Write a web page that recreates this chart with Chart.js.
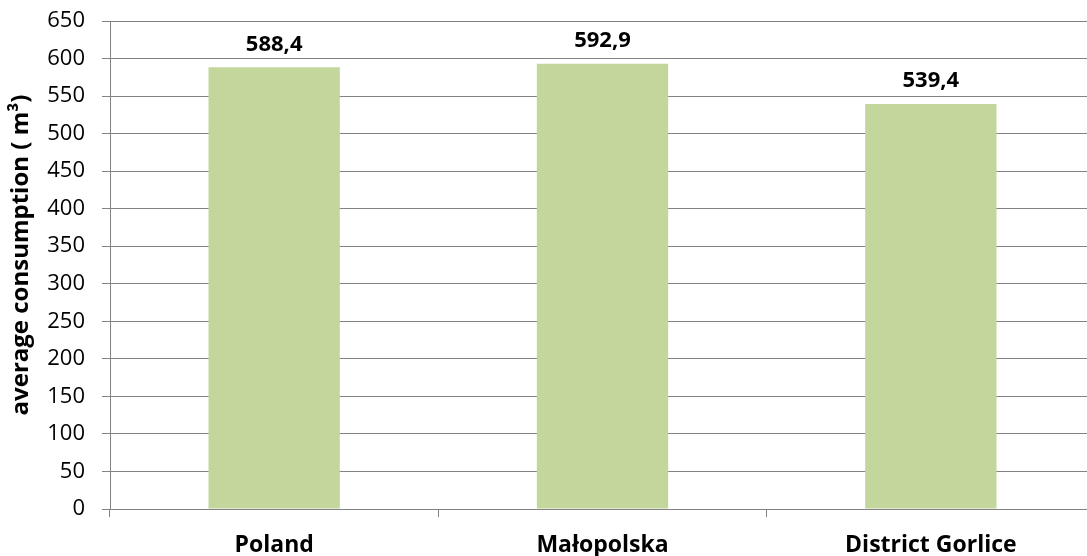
<!DOCTYPE html>
<html>
<head>
<meta charset="utf-8">
<script src="https://cdn.jsdelivr.net/npm/chart.js@4/dist/chart.umd.min.js"></script>
<style>
  html, body { margin: 0; padding: 0; background: #ffffff; overflow: hidden; }
  #wrap { position: relative; width: 1095px; height: 556px; }
</style>
</head>
<body>
<div id="wrap"><canvas id="chart"></canvas></div>
<script>
const categories = ['Poland', 'Małopolska', 'District Gorlice'];
const consumption = [588.4, 592.9, 539.4];
const valueLabels = ['588,4', '592,9', '539,4'];
const yTicks = [0, 50, 100, 150, 200, 250, 300, 350, 400, 450, 500, 550, 600, 650];
const yTitle = 'average consumption ( m³)';

const FONT = "'Open Sans', 'Liberation Sans', sans-serif";

// Bold value text above each bar, placed from the bar elements themselves
const barValues = {
  id: 'barValues',
  afterDatasetsDraw(chart) {
    const ctx = chart.ctx;
    const meta = chart.getDatasetMeta(0);
    ctx.save();
    ctx.font = `bold 22px ${FONT}`;
    ctx.fillStyle = '#000000';
    ctx.textAlign = 'center';
    ctx.textBaseline = 'middle';
    meta.data.forEach((bar, i) => {
      ctx.fillText(valueLabels[i], bar.x, bar.y - 23);
    });
    ctx.restore();
  }
};

// Rotated value-axis title, sitting slightly above the plot's middle
const axisTitle = {
  id: 'axisTitle',
  afterDraw(chart) {
    const ctx = chart.ctx;
    const area = chart.chartArea;
    ctx.save();
    ctx.translate(21, (area.top + area.bottom) / 2 - 10);
    ctx.rotate(-Math.PI / 2);
    ctx.font = `bold 24px ${FONT}`;
    ctx.fillStyle = '#000000';
    ctx.textAlign = 'center';
    ctx.textBaseline = 'middle';
    ctx.fillText(yTitle, 0, 0);
    ctx.restore();
  }
};

new Chart(document.getElementById('chart'), {
  type: 'bar',
  data: {
    labels: categories,
    datasets: [{
      data: consumption,
      backgroundColor: '#c3d69b',
      borderWidth: 0,
      categoryPercentage: 1.0,
      barPercentage: 0.4
    }]
  },
  options: {
    responsive: true,
    maintainAspectRatio: false,
    animation: false,
    layout: { padding: { top: 21, right: 0, bottom: 0, left: 0 } },
    plugins: {
      legend: { display: false },
      tooltip: { enabled: false }
    },
    scales: {
      x: {
        grid: {
          display: true,
          offset: true,
          drawOnChartArea: false,
          drawTicks: true,
          tickLength: 8,
          color: '#828282',
          lineWidth: 1
        },
        border: { display: true, color: '#828282', width: 1 },
        ticks: {
          color: '#000000',
          font: { family: FONT, size: 23, weight: 'bold' },
          padding: 15
        },
        afterFit(scale) {
          scale.height = 47;
          scale.paddingLeft = 0;
          scale.paddingRight = 0;
        }
      },
      y: {
        min: 0,
        max: 650,
        afterBuildTicks(scale) { scale.ticks = yTicks.map(v => ({ value: v })); },
        grid: {
          color: '#828282',
          lineWidth: 1,
          drawTicks: true,
          tickLength: 8
        },
        border: { display: true, color: '#828282', width: 1 },
        ticks: {
          color: '#000000',
          font: { family: FONT, size: 22 },
          padding: 17
        },
        afterFit(scale) {
          scale.width = 110;
          scale.paddingTop = 0;
          scale.paddingBottom = 0;
        }
      }
    }
  },
  plugins: [barValues, axisTitle]
});
</script>
</body>
</html>
